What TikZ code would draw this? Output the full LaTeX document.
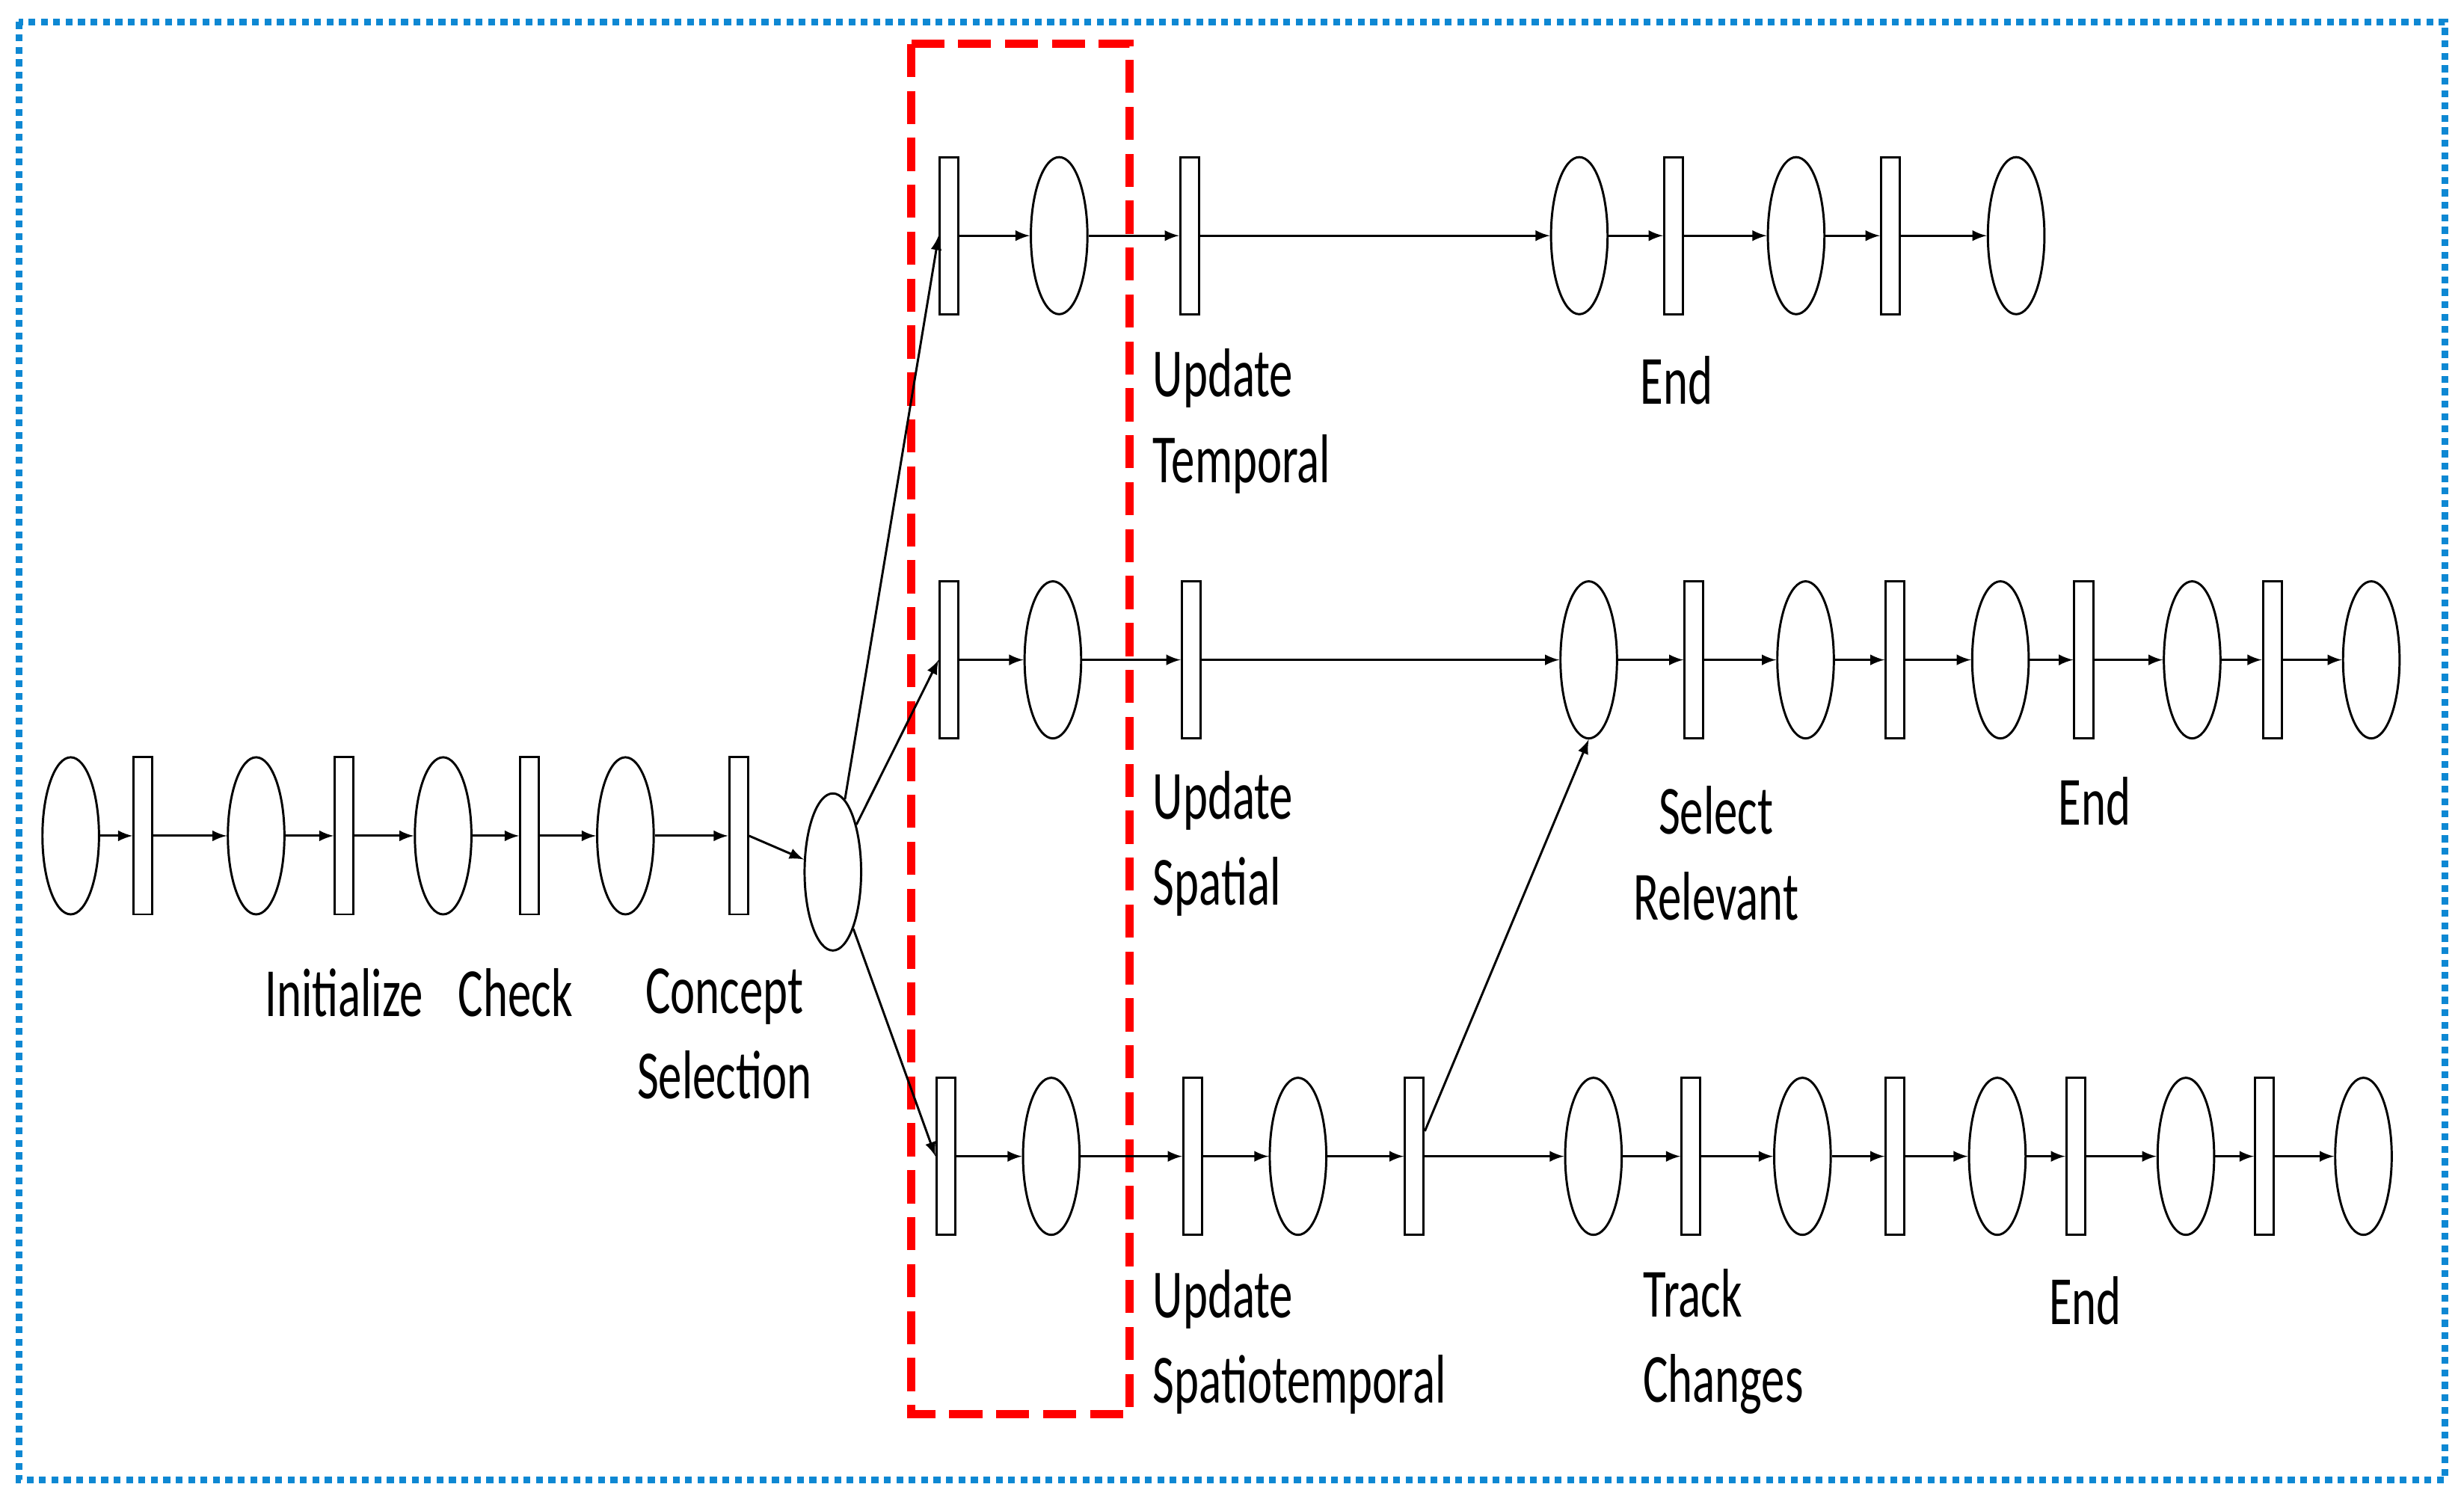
\documentclass[tikz,border=0pt]{standalone}
\usepackage{fontspec}
\setmainfont{Carlito}[FakeStretch=0.68]
\usetikzlibrary{shapes.geometric}
\tikzset{
  place/.style={draw, ellipse, minimum width=0.72cm, minimum height=2cm, inner sep=0pt},
  trans/.style={draw, rectangle, minimum width=0.24cm, minimum height=2cm, inner sep=0pt},
  lbl/.style={inner sep=0pt, font=\fontsize{25}{31}\selectfont},
}
\begin{document}
\begin{tikzpicture}[x=0.02cm, y=-0.02cm, line width=0.8pt]
    \useasboundingbox (0,0) rectangle (1568,954);
    % frames
    \draw[cyan!70!blue, line width=2.5pt, dotted] (12,14) rectangle (1556,942);
    \draw[red, line width=3pt, dash pattern=on 12pt off 5pt] (580,28) rectangle (719,900);
    % main row
    \node[place] (m1) at (45,532) {};
    \node[trans] (mt1) at (91,532) {};
    \node[place] (m2) at (163,532) {};
    \node[trans] (mt2) at (219,532) {};
    \node[place] (m3) at (282,532) {};
    \node[trans] (mt3) at (337,532) {};
    \node[place] (m4) at (398,532) {};
    \node[trans] (mt4) at (470,532) {};
    \node[place] (m5) at (530,555) {};
    \draw[-latex] (m1) -- (mt1);
    \draw[-latex] (mt1) -- (m2);
    \draw[-latex] (m2) -- (mt2);
    \draw[-latex] (mt2) -- (m3);
    \draw[-latex] (m3) -- (mt3);
    \draw[-latex] (mt3) -- (m4);
    \draw[-latex] (m4) -- (mt4);
    \draw[-latex] (mt4.east) -- (m5);
    % temporal row
    \node[trans] (at1) at (604,150) {};
    \node[place] (a1) at (674,150) {};
    \node[trans] (at2) at (757,150) {};
    \node[place] (a2) at (1005,150) {};
    \node[trans] (at3) at (1065,150) {};
    \node[place] (a3) at (1143,150) {};
    \node[trans] (at4) at (1203,150) {};
    \node[place] (a4) at (1283,150) {};
    \draw[-latex] (at1) -- (a1);
    \draw[-latex] (a1) -- (at2);
    \draw[-latex] (at2) -- (a2);
    \draw[-latex] (a2) -- (at3);
    \draw[-latex] (at3) -- (a3);
    \draw[-latex] (a3) -- (at4);
    \draw[-latex] (at4) -- (a4);
    % spatial row
    \node[trans] (bt1) at (604,420) {};
    \node[place] (b1) at (670,420) {};
    \node[trans] (bt2) at (758,420) {};
    \node[place] (b2) at (1011,420) {};
    \node[trans] (bt3) at (1078,420) {};
    \node[place] (b3) at (1149,420) {};
    \node[trans] (bt4) at (1206,420) {};
    \node[place] (b4) at (1273,420) {};
    \node[trans] (bt5) at (1326,420) {};
    \node[place] (b5) at (1395,420) {};
    \node[trans] (bt6) at (1446,420) {};
    \node[place] (b6) at (1509,420) {};
    \draw[-latex] (bt1) -- (b1);
    \draw[-latex] (b1) -- (bt2);
    \draw[-latex] (bt2) -- (b2);
    \draw[-latex] (b2) -- (bt3);
    \draw[-latex] (bt3) -- (b3);
    \draw[-latex] (b3) -- (bt4);
    \draw[-latex] (bt4) -- (b4);
    \draw[-latex] (b4) -- (bt5);
    \draw[-latex] (bt5) -- (b5);
    \draw[-latex] (b5) -- (bt6);
    \draw[-latex] (bt6) -- (b6);
    % spatiotemporal row
    \node[trans] (ct1) at (602,736) {};
    \node[place] (c1) at (669,736) {};
    \node[trans] (ct2) at (759,736) {};
    \node[place] (c2) at (826,736) {};
    \node[trans] (ct3) at (900,736) {};
    \node[place] (c3) at (1014,736) {};
    \node[trans] (ct4) at (1076,736) {};
    \node[place] (c4) at (1147,736) {};
    \node[trans] (ct5) at (1206,736) {};
    \node[place] (c5) at (1271,736) {};
    \node[trans] (ct6) at (1321,736) {};
    \node[place] (c6) at (1391,736) {};
    \node[trans] (ct7) at (1441,736) {};
    \node[place] (c7) at (1504,736) {};
    \draw[-latex] (ct1) -- (c1);
    \draw[-latex] (c1) -- (ct2);
    \draw[-latex] (ct2) -- (c2);
    \draw[-latex] (c2) -- (ct3);
    \draw[-latex] (ct3) -- (c3);
    \draw[-latex] (c3) -- (ct4);
    \draw[-latex] (ct4) -- (c4);
    \draw[-latex] (c4) -- (ct5);
    \draw[-latex] (ct5) -- (c5);
    \draw[-latex] (c5) -- (ct6);
    \draw[-latex] (ct6) -- (c6);
    \draw[-latex] (c6) -- (ct7);
    \draw[-latex] (ct7) -- (c7);
    % branches
    \draw[-latex] (m5) -- (at1.west);
    \draw[-latex] (m5) -- (bt1.west);
    \draw[-latex] (m5) -- (ct1.west);
    \draw[-latex] (ct3) -- (b2.south);
    % labels
    \node[lbl] (l1) at (219,632) {Initialize};
    \node[lbl] (l2) at (328,632) {Check};
    \node[lbl, align=center] (l3) at (461,658) {Concept\\Selection};
    \node[lbl, align=left, anchor=west] (l4) at (733,268) {Update\\Temporal};
    \node[lbl] (l5) at (1067,242) {End};
    \node[lbl, align=left, anchor=west] (l6) at (733,537) {Update\\Spatial};
    \node[lbl, align=center] (l7) at (1092,543) {Select\\Relevant};
    \node[lbl] (l8) at (1333,510) {End};
    \node[lbl, align=left, anchor=west] (l9) at (733,854) {Update\\Spatiotemporal};
    \node[lbl, align=left, anchor=west] (l10) at (1045,854) {Track\\Changes};
    \node[lbl] (l11) at (1327,828) {End};
\end{tikzpicture}
\end{document}
